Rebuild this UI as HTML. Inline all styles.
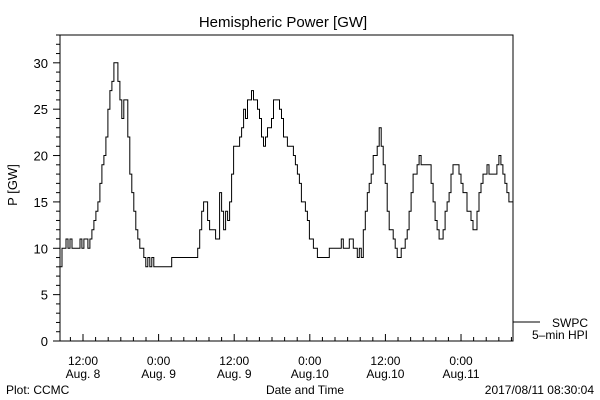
<!DOCTYPE html>
<html><head><meta charset="utf-8"><style>
html,body{margin:0;padding:0;background:#fff;}
svg{display:block;font-family:"Liberation Sans",sans-serif;}
</style></head><body>
<svg id="chart" width="600" height="400" viewBox="0 0 600 400">
<text x="283" y="27" font-size="15" text-anchor="middle">Hemispheric Power [GW]</text>
<text transform="translate(17,185) rotate(-90)" font-size="13" text-anchor="middle">P [GW]</text>
<rect x="60" y="35" width="453" height="306" fill="none" stroke="#000" stroke-width="1"/>
<g id="yaxis"></g>
<g id="xaxis"></g>
<path id="series" fill="none" stroke="#000" stroke-width="1"/>
<line x1="513" y1="322" x2="540" y2="322" stroke="#000"/>
<text x="588" y="327" font-size="12" text-anchor="end">SWPC</text>
<text x="588" y="339" font-size="12" text-anchor="end">5–min HPI</text>
<text x="305" y="394" font-size="12" text-anchor="middle">Date and Time</text>
<text x="6" y="394" font-size="12">Plot: CCMC</text>
<text x="594" y="394" font-size="12" text-anchor="end">2017/08/11 08:30:04</text>
</svg>
<script>
const startHour = 8.35;      // hours since Aug 8 00:00
const stepMinutes = 19;
const hpiValues = [8,10,10,11,10,11,10,10,10,10,11,10,11,11,10,11,12,13,14,15,17,19,20,22,25,27,28,30,30,28,26,24,26,26,22,18,16,14,12,11,10,10,9,8,9,8,9,8,
8,8,8,8,8,8,8,8,
9,9,9,9,9,9,9,9,9,9,9,9,9,
10,12,14,15,15,13,12,12,12,11,11,16,14,12,14,13,15,18,21,21,21,22,23,25,24,26,26,27,26,26,25,24,22,21,22,23,23,24,26,26,26,25,24,22,22,21,21,21,20,19,18,17,15,15,14,13,11,11,10,10,9,
9,9,9,9,9,
10,10,10,10,10,10,11,10,10,10,11,11,10,10,9,10,9,12,14,16,17,18,20,20,21,23,21,19,17,14,12,12,11,10,9,9,10,10,11,12,14,16,18,18,19,20,19,19,19,19,19,17,15,13,12,11,11,12,14,15,16,18,19,19,19,18,17,16,16,14,14,13,12,12,14,16,17,18,18,19,18,18,18,18,19,20,19,18,17,16,15,15];
const yTickLabels = ["0","5","10","15","20","25","30"];
const yTickValues = [0,5,10,15,20,25,30];
const xTickHours = [12,24,36,48,60,72];
const xTickLine1 = ["12:00","0:00","12:00","0:00","12:00","0:00"];
const xTickLine2 = ["Aug. 8","Aug. 9","Aug. 9","Aug.10","Aug.10","Aug.11"];

const NS="http://www.w3.org/2000/svg";
const X0=60,X1=513,Y0=341,Y1=35;
const H0=8.35,H1=80.25,V0=0,V1=33.0;
const xs=h=>X0+(h-H0)/(H1-H0)*(X1-X0);
const ys=v=>Y0-(v-V0)/(V1-V0)*(Y0-Y1);
function mk(tag,attrs,parent){const e=document.createElementNS(NS,tag);for(const k in attrs)e.setAttribute(k,attrs[k]);parent.appendChild(e);return e;}

const ya=document.getElementById('yaxis');
for(let v=0;v<=33;v++){
  const major=v%5===0;
  const t=mk('line',{x1:X0-(major?7:4),x2:X0,y1:ys(v),y2:ys(v),stroke:'#000'},ya);
  
  
}
yTickValues.forEach((v,i)=>{
  const t=mk('text',{x:48,y:ys(v)+5,'font-size':13,'text-anchor':'end'},ya);
  t.textContent=yTickLabels[i];
  
  
});
const xa=document.getElementById('xaxis');
for(let h=10;h<=80;h+=2){
  const major=h%12===0;
  const t=mk('line',{x1:xs(h),x2:xs(h),y1:Y0,y2:Y0-(major?7:4),stroke:'#000'},xa);
  
  
}
xTickHours.forEach((h,i)=>{
  const a=mk('text',{x:xs(h),y:365,'font-size':12,'text-anchor':'middle'},xa);
  a.textContent=xTickLine1[i];
  
  
  const b=mk('text',{x:xs(h),y:378,'font-size':12,'text-anchor':'middle'},xa);
  b.textContent=xTickLine2[i];
  
  
});
let d='';
hpiValues.forEach((v,i)=>{
  const x=xs(startHour+i*stepMinutes/60).toFixed(1), y=ys(v).toFixed(1);
  if(i===0) d+=`M${x},${y}`; else d+=`H${x}V${y}`;
});
d+=`H${xs(startHour+hpiValues.length*stepMinutes/60).toFixed(1)}`;
document.getElementById('series').setAttribute('d',d);
</script>
</body></html>
